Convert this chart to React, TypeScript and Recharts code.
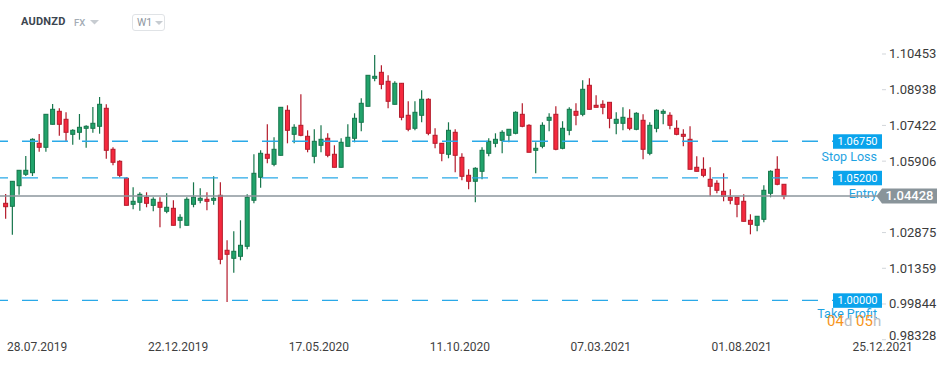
import React from 'react';
import { ComposedChart, Bar, XAxis, YAxis, ReferenceLine } from 'recharts';

// Weekly AUDNZD candles starting 28.07.2019
const opens = [
  1.04117, 1.0399, 1.04864, 1.05348, 1.05416, 1.06663, 1.06494, 1.0747, 1.08021, 1.07682,
  1.07045, 1.0713, 1.073, 1.073, 1.07385, 1.08149, 1.06409, 1.059, 1.05178, 1.04075,
  1.0416, 1.04372, 1.0403, 1.0416, 1.03778, 1.03905, 1.03396, 1.03184, 1.04075, 1.04245,
  1.04287, 1.04245, 1.04457, 1.02123, 1.01783, 1.01868, 1.02293, 1.04245, 1.05221, 1.06197,
  1.05772, 1.06154, 1.08064, 1.07045, 1.07427, 1.0696, 1.06112, 1.06579, 1.06876, 1.06197,
  1.05645, 1.06536, 1.06876, 1.07555, 1.08234, 1.09422, 1.09676, 1.09295, 1.08318, 1.0921,
  1.07852, 1.073, 1.07852, 1.08531, 1.07003, 1.06663, 1.06197, 1.0713, 1.06069, 1.05305,
  1.05051, 1.05475, 1.06239, 1.06663, 1.06791, 1.07003, 1.07088, 1.07894, 1.07427, 1.06366,
  1.06536, 1.0764, 1.07894, 1.06451, 1.07215, 1.08021, 1.07894, 1.09125, 1.08276, 1.08318,
  1.08403, 1.07512, 1.07512, 1.07724, 1.07258, 1.0764, 1.06239, 1.073, 1.07937, 1.07852,
  1.073, 1.07045, 1.06833, 1.05645, 1.0556, 1.05136, 1.04966, 1.04627, 1.04372, 1.04372,
  1.04202, 1.03396, 1.03184, 1.03438, 1.04542, 1.0556, 1.04924,
];
const highs = [
  1.04512, 1.0506, 1.0552, 1.06125, 1.06876, 1.07058, 1.079, 1.08331, 1.08149, 1.07979,
  1.07258, 1.07907, 1.07427, 1.08204, 1.08628, 1.08318, 1.06494, 1.05942, 1.05221, 1.04796,
  1.04584, 1.04584, 1.04372, 1.04372, 1.04542, 1.04245, 1.03651, 1.04372, 1.05008, 1.04754,
  1.04584, 1.05263, 1.05008, 1.02547, 1.02929, 1.03396, 1.04499, 1.06197, 1.06366, 1.0747,
  1.06918, 1.082, 1.08276, 1.0747, 1.08743, 1.07215, 1.07258, 1.07427, 1.07088, 1.06579,
  1.06876, 1.0747, 1.07937, 1.08573, 1.0955, 1.10411, 1.09973, 1.09549, 1.09295, 1.0922,
  1.08446, 1.08446, 1.08913, 1.08573, 1.073, 1.0667, 1.07555, 1.07258, 1.06239, 1.0556,
  1.05645, 1.06494, 1.06876, 1.07088, 1.07215, 1.0726, 1.08021, 1.08361, 1.0747, 1.06706,
  1.07555, 1.07937, 1.08234, 1.076, 1.08191, 1.08361, 1.09337, 1.09422, 1.087, 1.08488,
  1.0841, 1.07979, 1.08191, 1.08106, 1.07979, 1.07894, 1.07555, 1.08106, 1.08106, 1.07979,
  1.0764, 1.07258, 1.07385, 1.06112, 1.06069, 1.05645, 1.05093, 1.0539, 1.04711, 1.04375,
  1.04499, 1.03651, 1.0357, 1.0488, 1.05518, 1.06112, 1.0493,
];
const lows = [
  1.03464, 1.02785, 1.04482, 1.05276, 1.05276, 1.06307, 1.06307, 1.0746, 1.06986, 1.06748,
  1.06604, 1.06816, 1.06477, 1.07113, 1.07071, 1.0601, 1.0573, 1.05221, 1.0403, 1.03863,
  1.03803, 1.03948, 1.03778, 1.03099, 1.03693, 1.0318, 1.03056, 1.0318, 1.03948, 1.04117,
  1.0382, 1.04058, 1.01529, 0.9993, 1.01172, 1.01698, 1.02165, 1.04117, 1.04779, 1.05815,
  1.05687, 1.0615, 1.06663, 1.06663, 1.0696, 1.06282, 1.05815, 1.06282, 1.06069, 1.0564,
  1.0564, 1.0653, 1.06706, 1.07173, 1.0823, 1.09295, 1.08955, 1.08149, 1.0831, 1.0764,
  1.07173, 1.07215, 1.07555, 1.07003, 1.06451, 1.059, 1.06027, 1.05433, 1.05093, 1.04711,
  1.0416, 1.05136, 1.06112, 1.06494, 1.06239, 1.06706, 1.07045, 1.07342, 1.0628, 1.0539,
  1.06451, 1.07173, 1.06366, 1.06409, 1.07003, 1.07427, 1.07809, 1.081, 1.0819, 1.07894,
  1.073, 1.07045, 1.07215, 1.07215, 1.07215, 1.05985, 1.06154, 1.0713, 1.0747, 1.07258,
  1.07003, 1.06536, 1.0556, 1.0547, 1.05221, 1.04414, 1.04542, 1.04202, 1.04075, 1.03523,
  1.0335, 1.02801, 1.02929, 1.0331, 1.04372, 1.04881, 1.04287,
];
const closes = [
  1.03973, 1.05051, 1.05518, 1.05518, 1.06833, 1.06494, 1.07894, 1.08106, 1.0747, 1.0713,
  1.07215, 1.07342, 1.07385, 1.07512, 1.08318, 1.06366, 1.05857, 1.05305, 1.04032, 1.04202,
  1.04499, 1.04117, 1.04287, 1.03948, 1.03948, 1.03184, 1.03523, 1.04287, 1.04372, 1.0433,
  1.04202, 1.0433, 1.01741, 1.01953, 1.0208, 1.02335, 1.04372, 1.0539, 1.06239, 1.06027,
  1.06409, 1.08191, 1.07215, 1.07342, 1.07003, 1.06409, 1.06748, 1.06833, 1.06154, 1.05645,
  1.06706, 1.06918, 1.07724, 1.08361, 1.09549, 1.09507, 1.09167, 1.08446, 1.0921, 1.07767,
  1.07258, 1.07979, 1.08531, 1.07088, 1.06663, 1.06239, 1.07215, 1.06154, 1.05263, 1.05051,
  1.05603, 1.06366, 1.06748, 1.06833, 1.0713, 1.07258, 1.07979, 1.07385, 1.06282, 1.06451,
  1.07427, 1.07767, 1.06409, 1.073, 1.08106, 1.07852, 1.08955, 1.08106, 1.08191, 1.08191,
  1.07724, 1.07682, 1.07767, 1.073, 1.07937, 1.06409, 1.07427, 1.08064, 1.08021, 1.07427,
  1.07045, 1.0696, 1.0556, 1.05475, 1.05305, 1.04839, 1.04669, 1.04414, 1.04245, 1.04075,
  1.03353, 1.03226, 1.03567, 1.04669, 1.05475, 1.04924, 1.04428,
];

const xTickIndex = [0, 21, 42, 63, 84, 105, 126];
const xTickLabels = ['28.07.2019', '22.12.2019', '17.05.2020', '11.10.2020', '07.03.2021', '01.08.2021', '25.12.2021'];
const yTicks = [1.10453, 1.08938, 1.07422, 1.05906, 1.02875, 1.01359, 0.99844, 0.98328];

const stopLoss = 1.0675;
const entryLevel = 1.052;
const takeProfit = 1.0;
const lastPrice = 1.04428;

const data = opens.map((o, i) => ({
  i,
  o,
  h: highs[i],
  l: lows[i],
  c: closes[i],
  range: [lows[i], highs[i]],
}));

const FONT = 'Roboto, sans-serif';
const UP_FILL = '#21a36b';
const UP_LINE = '#16754b';
const DN_FILL = '#f5293e';
const DN_LINE = '#b41b2b';
const LEVEL = '#0aa4ec';

const Candle = (props: any) => {
  const { x, y, width, height, payload } = props;
  if (!payload) return null;
  const { o, h, l, c } = payload;
  const top = Math.min(y, y + height);
  const hh = Math.abs(height);
  const ppu = hh / (h - l || 1e-9);
  const cx = x + width / 2;
  const up = c >= o;
  const bTop = top + (h - Math.max(o, c)) * ppu;
  const bBot = top + (h - Math.min(o, c)) * ppu;
  return (
    <g>
      <line x1={cx} x2={cx} y1={top} y2={top + hh} stroke={up ? UP_LINE : DN_LINE} strokeWidth={1.2} />
      <rect
        x={cx - 2}
        y={bTop}
        width={4}
        height={Math.max(bBot - bTop, 1)}
        fill={up ? UP_FILL : DN_FILL}
        stroke={up ? UP_LINE : DN_LINE}
        strokeWidth={1}
      />
    </g>
  );
};

const LevelTag = (props: any) => {
  const vb = props.viewBox || {};
  const y = vb.y ?? 0;
  return (
    <g fontFamily={FONT}>
      <rect x={833} y={y - 7} width={49} height={14.5} fill={LEVEL} />
      <text x={857.5} y={y} dy={4} textAnchor="middle" fill="#fff" fontSize={11}>
        {props.tagText}
      </text>
      <text x={877} y={y + (props.titleDy ?? 15.5)} dy={4.5} textAnchor="end" fill="#1ea2e2" fontSize={12.5}>
        {props.title}
      </text>
      {props.countdown ? (
        <text x={827} y={y + 20} dy={5.5} textAnchor="start" fontSize={15}>
          <tspan fill="#f7951d">04</tspan>
          <tspan fill="#b9bec4">d </tspan>
          <tspan fill="#f7951d">05</tspan>
          <tspan fill="#b9bec4">h</tspan>
        </text>
      ) : null}
    </g>
  );
};

const PriceTag = (props: any) => {
  const vb = props.viewBox || {};
  const y = vb.y ?? 0;
  return (
    <g fontFamily={FONT}>
      <polygon
        points={`876.5,${y} 882,${y - 7.5} 937,${y - 7.5} 937,${y + 7.5} 882,${y + 7.5}`}
        fill="#89949a"
      />
      <text x={909.5} y={y} dy={4.5} textAnchor="middle" fill="#fff" fontSize={13} fontWeight={500}>
        {props.tagText}
      </text>
    </g>
  );
};

const YTick = (props: any) => {
  const { y, payload } = props;
  const ty = Math.min(y, 335);
  return (
    <g fontFamily={FONT}>
      <line x1={882} x2={886} y1={y} y2={y} stroke="#d2d6da" />
      <text x={889} y={ty} dy={4.5} fill="#3b3b3b" fontSize={13} textAnchor="start">
        {Number(payload.value).toFixed(5)}
      </text>
    </g>
  );
};

const XTick = (props: any) => {
  const { x, payload } = props;
  const idx = xTickIndex.indexOf(payload.value);
  return (
    <g fontFamily={FONT}>
      <text x={x + 1} y={351} fill="#3f3f3f" fontSize={12} textAnchor="start">
        {xTickLabels[idx]}
      </text>
    </g>
  );
};

export default function App() {
  return (
    <div
      style={{
        position: 'absolute',
        left: 0,
        top: 0,
        width: 950,
        height: 365,
        background: '#fff',
        overflow: 'hidden',
        fontFamily: FONT,
      }}
    >
      <div style={{ position: 'absolute', left: 21, top: 15, fontSize: 11, fontWeight: 700, color: '#3c4650', letterSpacing: 0.2 }}>
        AUDNZD
      </div>
      <div style={{ position: 'absolute', left: 74, top: 17, fontSize: 9.5, fontWeight: 500, color: '#a3acb5' }}>FX</div>
      <svg style={{ position: 'absolute', left: 90, top: 20 }} width={9} height={5}>
        <polygon points="0,0 9,0 4.5,4.5" fill="#c7ccd1" />
      </svg>
      <div
        style={{
          position: 'absolute',
          left: 132,
          top: 14,
          width: 33,
          height: 17,
          border: '1px solid #e0e3e6',
          borderRadius: 3,
          boxSizing: 'border-box',
        }}
      >
        <span style={{ position: 'absolute', left: 4, top: 1, fontSize: 10.5, color: '#8d969e' }}>W1</span>
        <svg style={{ position: 'absolute', left: 22, top: 6 }} width={8} height={5}>
          <polygon points="0,0 8,0 4,4" fill="#c7ccd1" />
        </svg>
      </div>
      <div style={{ position: 'absolute', left: 0, top: 0 }}>
        <ComposedChart width={950} height={365} data={data} margin={{ top: 40, right: 0, bottom: 0, left: 0 }}>
          <XAxis
            type="number"
            dataKey="i"
            domain={[-0.894, 129.96]}
            allowDataOverflow
            ticks={xTickIndex}
            tick={<XTick />}
            axisLine={false}
            tickLine={false}
            height={25}
            interval={0}
          />
          <YAxis
            orientation="right"
            type="number"
            domain={[0.98316, 1.11047]}
            allowDataOverflow
            ticks={yTicks}
            tick={<YTick />}
            axisLine={false}
            tickLine={false}
            width={72}
            interval={0}
          />
          <ReferenceLine
            y={stopLoss}
            stroke="#2aa9e8"
            strokeWidth={1.3}
            strokeDasharray="16 14"
            label={<LevelTag tagText="1.06750" title="Stop Loss" titleDy={15.5} />}
          />
          <ReferenceLine
            y={entryLevel}
            stroke="#2aa9e8"
            strokeWidth={1.3}
            strokeDasharray="16 14"
            label={<LevelTag tagText="1.05200" title="Entry" titleDy={15.5} />}
          />
          <ReferenceLine
            y={takeProfit}
            stroke="#2aa9e8"
            strokeWidth={1.3}
            strokeDasharray="16 14"
            label={<LevelTag tagText="1.00000" title="Take Profit" titleDy={13} countdown />}
          />
          <ReferenceLine
            y={lastPrice}
            stroke="#8b969c"
            strokeWidth={1.5}
            label={<PriceTag tagText="1.04428" />}
          />
          <Bar dataKey="range" barSize={6} shape={<Candle />} isAnimationActive={false} />
        </ComposedChart>
      </div>
    </div>
  );
}
